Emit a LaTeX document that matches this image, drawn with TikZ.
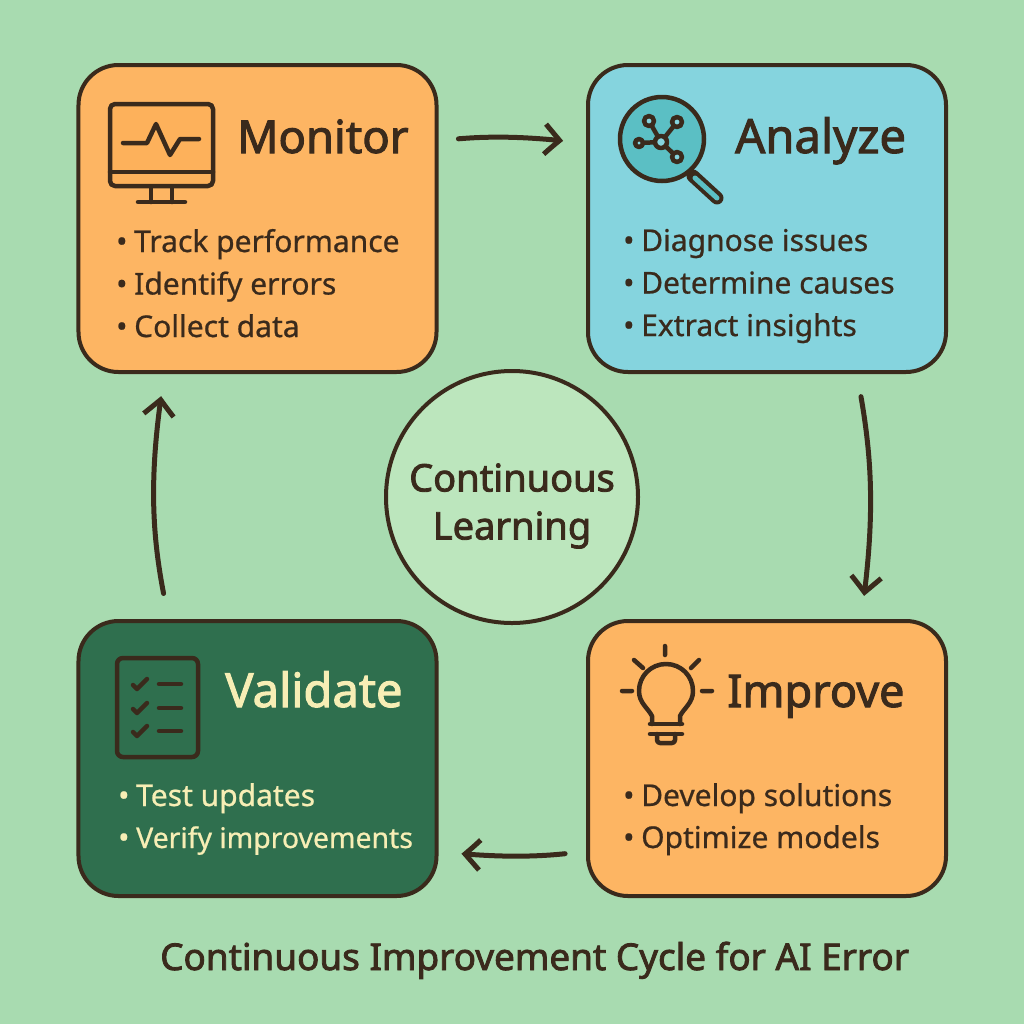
\documentclass[tikz,border=0pt]{standalone}
\usepackage{fontspec}
\setmainfont{Noto Sans}
\newfontfamily\headfont{Noto Sans}[FakeBold=2.2]
\newfontfamily\bodyfont{Noto Sans}[FakeBold=0.7]
\usetikzlibrary{arrows.meta,bending}
\definecolor{ink}{HTML}{3A2A1C}
\definecolor{meadow}{HTML}{A8DBB0}
\definecolor{peach}{HTML}{FDB563}
\definecolor{sky}{HTML}{85D4DE}
\definecolor{pine}{HTML}{2F6F4E}
\definecolor{mint}{HTML}{BCE6BD}
\definecolor{cream}{HTML}{F7EEB5}
\definecolor{lens}{HTML}{5BBFC4}
\tikzset{
  stagebox/.style={draw=ink,line width=4bp,rounded corners=40bp,minimum width=358bp,inner sep=0pt},
  stagetitle/.style={anchor=base west,inner sep=0pt,font=\fontsize{#1}{50bp}\headfont,text=ink},
  stageitem/.style={anchor=base west,inner sep=0pt,font=\fontsize{30bp}{36bp}\bodyfont,text=ink},
  cyclearrow/.style={draw=ink,line width=5bp,line cap=round,-{Straight Barb[length=17bp,width=30bp,line width=5bp,bend]}},
  iconline/.style={draw=ink,line width=4.5bp,line cap=round,line join=round},
}
\newcommand{\bulletitem}[1]{\makebox[18bp][l]{\textbullet}#1}
\begin{document}
\begin{tikzpicture}[x=1bp,y=-1bp]
  \useasboundingbox (0,0) rectangle (1024,1024);
  \fill[meadow] (0,0) rectangle (1024,1024);
  % Stage boxes
  \node[stagebox,fill=peach,minimum height=307bp] (monitor) at (257.5,218.5) {};
  \node[stagebox,fill=sky,minimum height=307bp] (analyze) at (767,218.5) {};
  \node[stagebox,fill=peach,minimum height=275bp] (improve) at (767,758.5) {};
  \node[stagebox,fill=pine,minimum height=275bp] (validate) at (257.5,758.5) {};
  \node[circle,draw=ink,line width=4bp,fill=mint,minimum size=252bp,inner sep=0pt] (centre) at (512,497) {};
  \node[align=center,inner sep=0pt,font=\fontsize{38bp}{48bp}\headfont,text=ink] (centrelabel) at (512,506) {Continuous\\Learning};
  % Edge: monitor -> analyze
  \draw[cyclearrow,shorten <=20bp,shorten >=24bp] ([yshift=78bp]monitor.east) to[bend left=6] ([yshift=75bp]analyze.west);
  % Edge: analyze -> improve
  \draw[cyclearrow,shorten <=23bp,shorten >=24bp] ([xshift=90bp]analyze.south) to[bend left=9] ([xshift=94bp]improve.north);
  % Edge: improve -> validate
  \draw[cyclearrow,shorten <=21bp,shorten >=24bp] ([yshift=-93bp]improve.west) to[bend left=6] ([yshift=-93bp]validate.east);
  % Edge: validate -> monitor
  \draw[cyclearrow,shorten <=26bp,shorten >=23bp] ([xshift=-89bp]validate.north) to[bend left=10] ([xshift=-93bp]monitor.south);
  % Titles
  \node[stagetitle=45.5bp] (monitortitle) at (237,153) {Monitor};
  \node[stagetitle=47.2bp] (analyzetitle) at (735,153) {Analyze};
  \node[stagetitle=45bp] (improvetitle) at (727,707) {Improve};
  \node[stagetitle=47.2bp,text=cream] (validatetitle) at (225,707) {Validate};
  % Items
  \foreach \itemtext [count=\i] in {Track performance,Identify errors,Collect data}
    \node[stageitem] (monitoritem\i) at (116,209.5+42.5*\i) {\bulletitem{\itemtext}};
  \foreach \itemtext [count=\i] in {Diagnose issues,Determine causes,Extract insights}
    \node[stageitem] (analyzeitem\i) at (623,208.5+42.5*\i) {\bulletitem{\itemtext}};
  \foreach \itemtext [count=\i] in {Develop solutions,Optimize models}
    \node[stageitem] (improveitem\i) at (623,764+42*\i) {\bulletitem{\itemtext}};
  \foreach \itemtext [count=\i] in {Test updates,{\fontsize{28.4bp}{36bp}\selectfont Verify improvements}}
    \node[stageitem,text=cream] (validateitem\i) at (118,764+42*\i) {\bulletitem{\itemtext}};
  \node[anchor=base west,inner sep=0pt,font=\fontsize{36.9bp}{40bp}\headfont,text=ink] (caption) at (160,970) {Continuous Improvement Cycle for AI Error};
  % Icon: monitor
  \draw[iconline,fill=peach!92!orange,rounded corners=5bp] (110,104) rectangle (213,186);
  \draw[iconline] (110,172) -- (213,172);
  \draw[iconline] (151,187) -- (151,202) (172,187) -- (172,202) (138,202) -- (185,202);
  \draw[iconline] (123,143) -- (147,143) -- (156,124) -- (170,155) -- (180,139) -- (199,139);
  % Icon: magnifier
  \draw[draw=ink,line width=13bp,line cap=round] (693,176) -- (717,198);
  \draw[draw=lens,line width=5bp,line cap=round] (695,178) -- (717,198);
  \draw[iconline,fill=lens] (662,139) circle (42);
  \draw[iconline] (661,142) -- (649,121) (661,142) -- (677,122) (661,142) -- (639,143) (661,142) -- (677,157);
  \foreach \nx/\ny/\nr in {661/142/6,649/121/5,677/122/5,639/143/4,677/157/5}
    \draw[iconline,fill=sky] (\nx,\ny) circle (\nr);
  % Icon: bulb
  \draw[iconline] (652,724) -- (652,716) .. controls (648,708) and (639,703) .. (639,691)
    .. controls (639,676) and (651,664) .. (666,664) .. controls (681,664) and (693,676) .. (693,691)
    .. controls (693,703) and (684,708) .. (680,716) -- (680,724);
  \draw[iconline] (650,724) -- (682,724) (650,734) -- (682,734);
  \draw[iconline,rounded corners=3bp] (657,734) -- (657,743) -- (675,743) -- (675,734);
  \draw[iconline] (665,646) -- (665,655) (634,660) -- (643,668) (699,660) -- (691,668) (622,691) -- (632,691) (702,691) -- (712,691);
  % Icon: checklist
  \draw[iconline,rounded corners=6bp] (117,658) rectangle (198,757);
  \foreach \cy in {684,708,731}{
    \draw[iconline] (133,\cy+1) -- (137,\cy+5) -- (147,\cy-5);
    \draw[iconline] (159,\cy) -- (181,\cy);
  }
\end{tikzpicture}
\end{document}
